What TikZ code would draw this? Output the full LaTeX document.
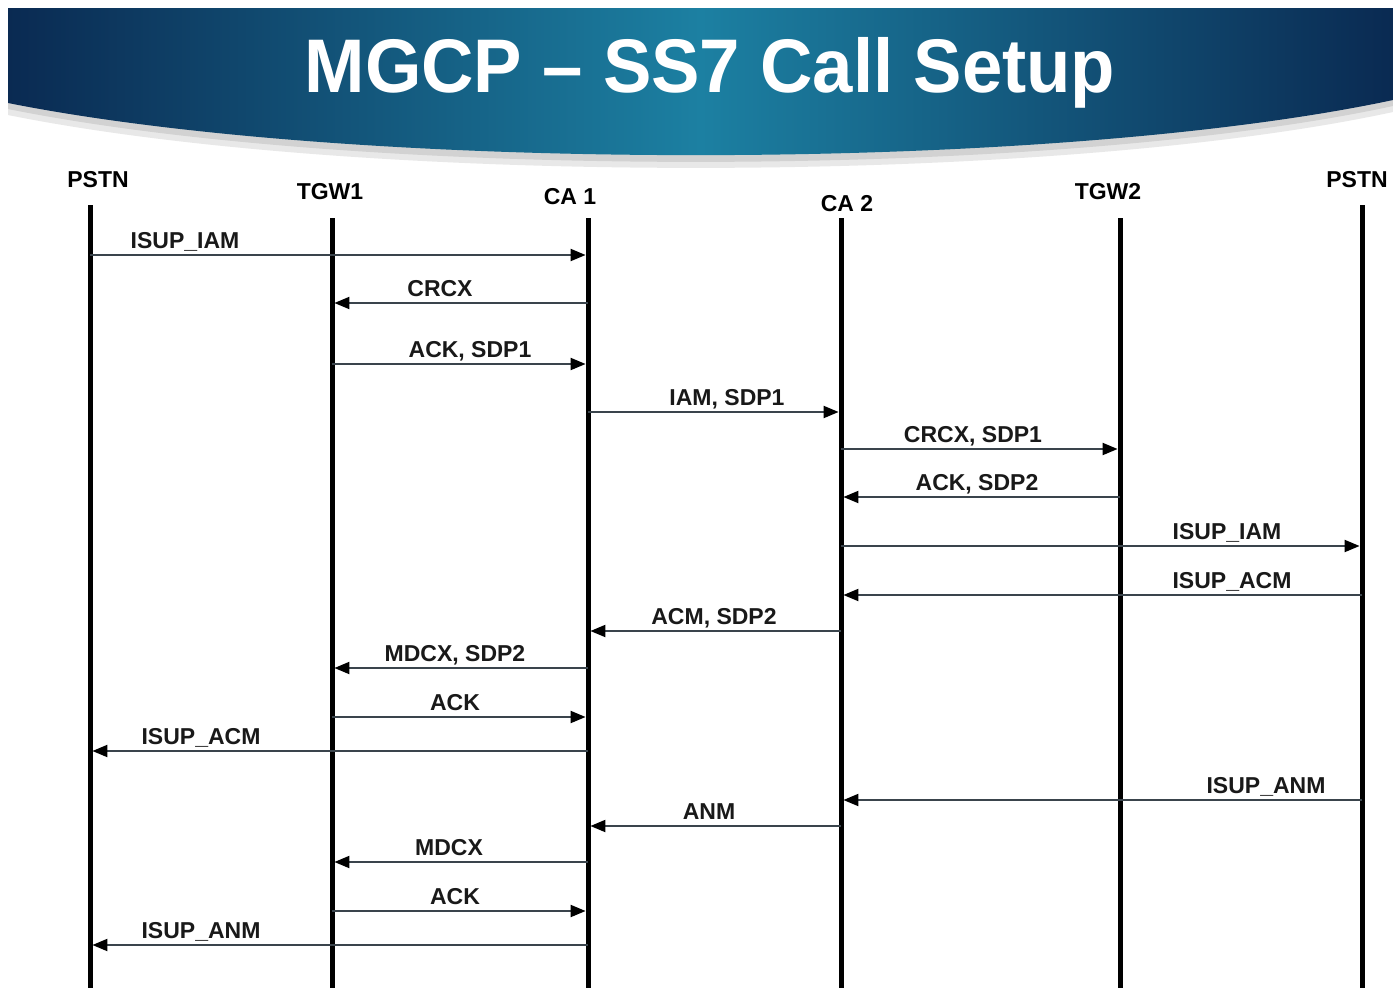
\documentclass[tikz,border=0pt]{standalone}
\usepackage{fontspec}
\setmainfont{Liberation Sans}
\usetikzlibrary{arrows.meta,positioning}
\definecolor{bannerdark}{RGB}{10,42,82}
\definecolor{bannermid}{RGB}{28,128,162}
\definecolor{msggray}{RGB}{58,68,76}

\begin{document}
\begin{tikzpicture}[x=0.5pt, y=-0.5pt,
    >={Triangle[length=7.5pt, width=6pt, color=black]},
    life/.style={line width=2.5pt, black},
    head/.style={font=\fontsize{11.5}{13}\selectfont\bfseries, inner sep=0pt},
    msg/.style={->, line width=1pt, draw=msggray, shorten >=1.2pt},
    lbl/.style={font=\fontsize{11.5}{13}\selectfont\bfseries, inner sep=0pt,
                text=black!90, anchor=base},
  ]
  \useasboundingbox (0,0) rectangle (1393,991);
  \fill[white] (0,0) rectangle (1393,991);

  % title banner
  \fill[gray!18] (8,8) -- (1393,8) -- (1393,112)
    .. controls (1050,186) and (360,186) .. (8,115) -- cycle;
  \fill[gray!35] (8,8) -- (1393,8) -- (1393,106)
    .. controls (1050,180) and (360,180) .. (8,109) -- cycle;
  \shade[left color=bannerdark, right color=bannerdark, middle color=bannermid]
    (8,8) -- (1393,8) -- (1393,100)
    .. controls (1050,173) and (360,173) .. (8,103) -- cycle;
  \node[font=\fontsize{38}{40}\selectfont\bfseries, text=white, inner sep=0pt,
        anchor=base, xscale=0.955] (title) at (710,92) {MGCP – SS7 Call Setup};

  % lifelines
  \coordinate (l1) at (90,205);
  \coordinate (l2) at (332,218);
  \coordinate (l3) at (588,218);
  \coordinate (l4) at (841,218);
  \coordinate (l5) at (1120,218);
  \coordinate (l6) at (1362,205);
  \coordinate (bottom) at (0,988);
  \foreach \l in {l1,l2,l3,l4,l5,l6}
    \draw[life] (\l) -- (\l |- bottom);

  \node[head] (pstnA) at (98,180) {PSTN};
  \node[head] (tgw1) at (330,192) {TGW1};
  \node[head] (ca1) at (570,197) {CA 1};
  \node[head] (ca2) at (847,204) {CA 2};
  \node[head] (tgw2) at (1108,192) {TGW2};
  \node[head] (pstnB) at (1357,180) {PSTN};

  % messages: y / from / to / label / label x
  \foreach \y/\a/\b/\t/\lx [count=\i] in {
      255/l1/l3/{ISUP\_IAM}/185,
      303/l3/l2/{CRCX}/440,
      364/l2/l3/{ACK, SDP1}/470,
      412/l3/l4/{IAM, SDP1}/727,
      449/l4/l5/{CRCX, SDP1}/973,
      497/l5/l4/{ACK, SDP2}/977,
      546/l4/l6/{ISUP\_IAM}/1227,
      595/l6/l4/{ISUP\_ACM}/1232,
      631/l4/l3/{ACM, SDP2}/714,
      668/l3/l2/{MDCX, SDP2}/455,
      717/l2/l3/{ACK}/455,
      751/l3/l1/{ISUP\_ACM}/201,
      800/l6/l4/{ISUP\_ANM}/1266,
      826/l4/l3/{ANM}/709,
      862/l3/l2/{MDCX}/449,
      911/l2/l3/{ACK}/455,
      945/l3/l1/{ISUP\_ANM}/201} {
    \draw[msg] (\a |- 0,\y) -- (\b |- 0,\y);
    \node[lbl] (m\i) at (\lx,\y-7) {\t};
  }
\end{tikzpicture}
\end{document}
